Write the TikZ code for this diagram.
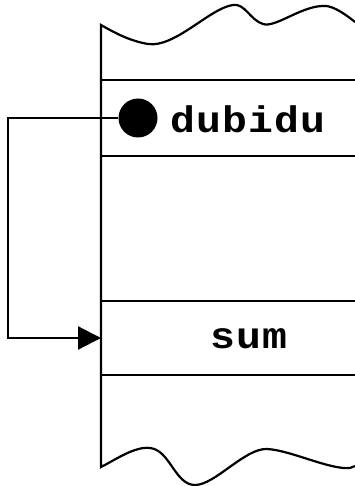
\documentclass[tikz,border=0pt]{standalone}
\usepackage{fontspec}
\setmonofont{Liberation Mono}
\usetikzlibrary{arrows.meta}
\tikzset{
  wire/.style={line width=2.2pt, line join=miter},
  lbl/.style={font=\ttfamily\bfseries\fontsize{37}{37}\selectfont\addfontfeature{FakeStretch=1.12,LetterSpace=3}, inner sep=0pt},
  dot/.style={circle, fill=black, minimum size=39pt, inner sep=0pt},
}
\begin{document}
\begin{tikzpicture}[x=1pt,y=-1pt]
\useasboundingbox (0,0) rectangle (355,486);
% outline of memory block
\draw[wire] (355,22) .. controls (340,10) and (330,5) .. (322,6)
  .. controls (300,7) and (275,28) .. (263,24)
  .. controls (250,20) and (245,3) .. (233,5)
  .. controls (210,8) and (175,48) .. (148,44)
  .. controls (130,41) and (115,33) .. (101,25)
  -- (101,467)
  .. controls (115,460) and (135,446) .. (150,448)
  .. controls (170,450) and (175,485) .. (195,485)
  .. controls (215,485) and (245,448) .. (267,449)
  .. controls (290,450) and (330,470) .. (350,468)
  -- (355,466);
\draw[wire] (101,80) -- (355,80);
\draw[wire] (101,156) -- (355,156);
\draw[wire] (101,301) -- (355,301);
\draw[wire] (101,375) -- (355,375);
\node[dot] (p) at (138,118) {};
\node[lbl, anchor=west] (dub) at (170,119) {dubidu};
\node[lbl] (sum) at (249,339) {sum};
\coordinate (sumw) at (101,338);
\coordinate (c1) at (8,118);
\coordinate (c2) at (8,338);
\draw[wire, -{Triangle[length=23pt,width=23pt]}] (p.west) -- (c1) -- (c2) -- (sumw);
\end{tikzpicture}
\end{document}
